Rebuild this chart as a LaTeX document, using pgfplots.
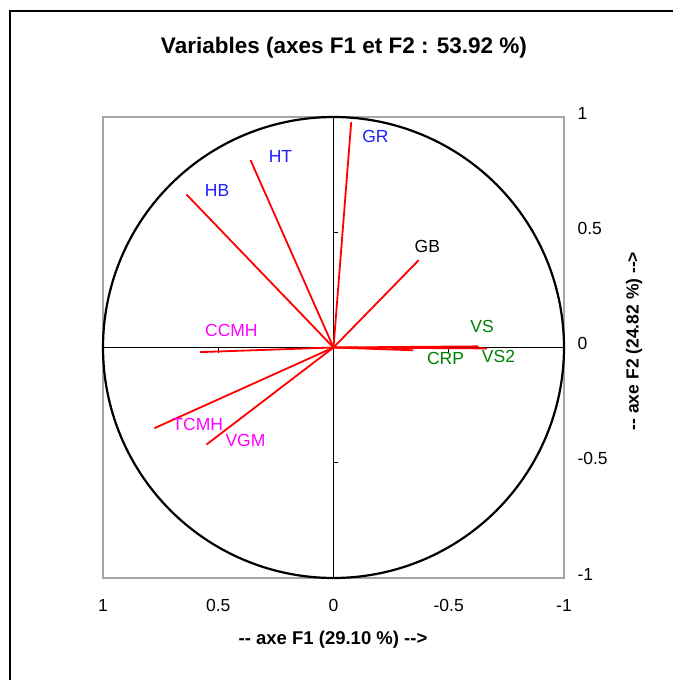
\documentclass[border=0pt]{standalone}
\usepackage{pgfplots}
\pgfplotsset{compat=1.18}
\usepackage{fontspec}
\setmainfont{Liberation Sans}
\definecolor{vblue}{RGB}{30,30,255}
\definecolor{vmag}{RGB}{255,0,255}
\definecolor{vgreen}{RGB}{0,128,0}
\definecolor{framegray}{RGB}{165,165,165}
\newcommand{\lab}{\fontsize{17.5}{20}\selectfont}
\begin{document}
\begin{tikzpicture}[x=1pt,y=1pt]
\path[use as bounding box] (0,0) rectangle (673,-680);
\draw[line width=2pt] (9.5,-680) -- (9.5,-10.5) -- (673,-10.5);
\node[font=\bfseries\fontsize{22.5}{26}\selectfont] at (344,-48) {Variables (axes F1 et F2 : 53.92 \%)};
\node[font=\bfseries\fontsize{18.5}{21}\selectfont] at (333,-640) {-{}- axe F1 (29.10 \%) -{}->};
\node[font=\bfseries\fontsize{17.5}{21}\selectfont, rotate=90] at (634,-341) {-{}- axe F2 (24.82 \%) -{}->};
\begin{axis}[
 at={(103pt,-578pt)}, anchor=south west,
 scale only axis, width=461pt, height=461pt,
 xmin=-1,xmax=1,ymin=-1,ymax=1, x dir=reverse,
 axis line style={framegray, line width=1.5pt},
 xtick={-1,-0.5,0,0.5,1}, ytick={-1,-0.5,0,0.5,1},
 xticklabels={-1,-0.5,0,0.5,1}, yticklabels={-1,-0.5,0,0.5,1},
 major tick length=0pt,
 yticklabel pos=right,
 tick label style={font=\fontsize{17.5}{20}\selectfont},
 xticklabel style={anchor=center, yshift=-27.5pt},
 yticklabel style={anchor=west, xshift=10pt, yshift=4pt},
 clip=false,
]
\addplot[black, line width=2.2pt, domain=0:360, samples=241] ({cos(x)},{sin(x)});
\addplot[black, line width=1.8pt] coordinates {(-1,0) (1,0)};
\addplot[black, line width=1.8pt] coordinates {(0,-1) (0,1)};
\draw[black, line width=1.3pt] (axis cs:0.5,0) -- ++(0pt,-5pt);
\draw[black, line width=1.3pt] (axis cs:-0.5,0) -- ++(0pt,-5pt);
\draw[black, line width=1.3pt] (axis cs:0,0.5) -- ++(5pt,0pt);
\draw[black, line width=1.3pt] (axis cs:0,-0.5) -- ++(5pt,0pt);
% vectors
\addplot[red, line width=1.8pt] coordinates {(0,0) (-0.077,0.979)}; % GR
\addplot[red, line width=1.8pt] coordinates {(0,0) (0.360,0.813)}; % HT
\addplot[red, line width=1.8pt] coordinates {(0,0) (0.638,0.664)}; % HB
\addplot[red, line width=1.8pt] coordinates {(0,0) (0.580,-0.020)}; % CCMH
\addplot[red, line width=1.8pt] coordinates {(0,0) (0.777,-0.350)}; % TCMH
\addplot[red, line width=1.8pt] coordinates {(0,0) (0.551,-0.421)}; % VGM
\addplot[red, line width=1.8pt] coordinates {(0,0) (-0.370,0.379)}; % GB
\addplot[red, line width=1.8pt] coordinates {(0,0) (-0.629,0.005)}; % VS
\addplot[red, line width=1.8pt] coordinates {(0,0) (-0.667,-0.004)}; % VS2
\addplot[red, line width=1.8pt] coordinates {(0,0) (-0.346,-0.012)}; % CRP
% labels
\node[text=vblue, font=\lab] at (axis cs:-0.182,0.915) {GR};
\node[text=vblue, font=\lab] at (axis cs:0.230,0.829) {HT};
\node[text=vblue, font=\lab] at (axis cs:0.505,0.681) {HB};
\node[text=vmag, font=\lab] at (axis cs:0.443,0.074) {CCMH};
\node[text=vmag, font=\lab] at (axis cs:0.589,-0.334) {TCMH};
\node[text=vmag, font=\lab] at (axis cs:0.382,-0.402) {VGM};
\node[text=black, font=\lab] at (axis cs:-0.407,0.439) {GB};
\node[text=vgreen, font=\lab] at (axis cs:-0.645,0.090) {VS};
\node[text=vgreen, font=\lab] at (axis cs:-0.716,-0.039) {VS2};
\node[text=vgreen, font=\lab] at (axis cs:-0.486,-0.048) {CRP};
\end{axis}
\end{tikzpicture}
\end{document}
